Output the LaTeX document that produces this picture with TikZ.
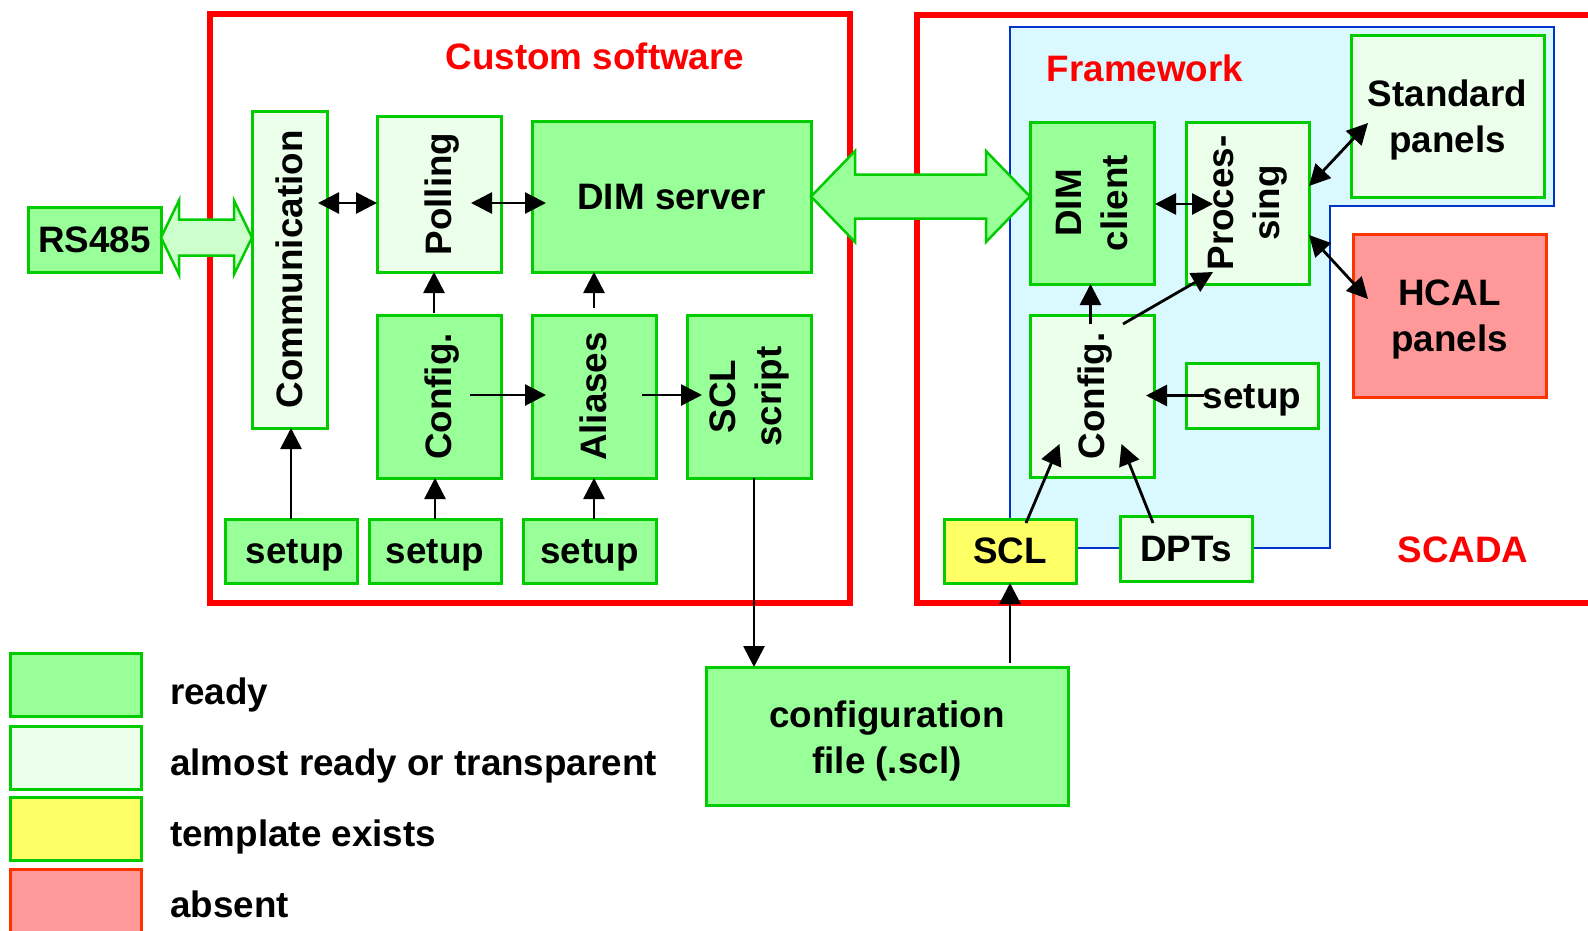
\documentclass[tikz,border=0pt]{standalone}
\usepackage{fontspec}
\setmainfont{Liberation Sans}
\usetikzlibrary{arrows.meta,calc}
\definecolor{rdyfill}{HTML}{99FF99}
\definecolor{ltfill}{HTML}{EBFFEB}
\definecolor{gbord}{HTML}{00CC00}
\definecolor{hollowfill}{HTML}{CCFFCC}
\definecolor{yelfill}{HTML}{FFFF66}
\definecolor{absfill}{HTML}{FF9999}
\definecolor{absbord}{HTML}{FF3300}
\definecolor{fwfill}{HTML}{D9F9FF}
\definecolor{fwbord}{HTML}{0033CC}
\definecolor{redc}{HTML}{FF0000}
\tikzset{
 box/.style={draw=gbord, line width=3pt, inner sep=0pt, outer sep=0pt, rectangle},
 ready/.style={box, fill=rdyfill},
 almost/.style={box, fill=ltfill},
 templ/.style={box, fill=yelfill},
 absent/.style={box, draw=absbord, fill=absfill},
 mtxt/.style={font=\fontsize{36.8}{46}\selectfont\bfseries, inner sep=0pt, align=center},
 txt/.style={font=\fontsize{36.8}{46}\selectfont\bfseries, inner sep=0pt, text height=33.3pt, text depth=7.8pt},
 title/.style={txt, text=redc},
 conn/.style={draw=black, line width=2.8pt, -{Triangle[length=21pt,width=21pt]}},
 dconn/.style={draw=black, line width=2.8pt, {Triangle[length=21pt,width=21pt]}-{Triangle[length=21pt,width=21pt]}},
 frame/.style={draw=redc, line width=6pt},
 hollow/.style={draw=gbord, line width=2.5pt, fill=hollowfill, line join=miter},
 fat/.style={draw=gbord, line width=2.5pt, fill=rdyfill, line join=miter},
}
\newcommand\mkbox[6]{\node[#1, minimum width={#5-#3}, minimum height={#6-#4}] (#2) at ({(#3+#5)/2},{(#4+#6)/2}) {};}
% style, left tip, right tip, shaft half, head half, head length
\newcommand\hdarrow[6]{\path[#1] let \p1=(#2), \p2=(#3) in
 (\x1,\y1) -- (\x1+#6pt,\y1+#5pt) -- (\x1+#6pt,\y1+#4pt) -- (\x2-#6pt,\y1+#4pt) -- (\x2-#6pt,\y1+#5pt) -- (\x2,\y1)
 -- (\x2-#6pt,\y1-#5pt) -- (\x2-#6pt,\y1-#4pt) -- (\x1+#6pt,\y1-#4pt) -- (\x1+#6pt,\y1-#5pt) -- cycle;}
\begin{document}
\begin{tikzpicture}[x=1pt,y=-1pt]
\useasboundingbox (0,0) rectangle (1588,930);
\clip (0,0) rectangle (1588,930);
% frames
\draw[frame] (210,14) rectangle (850,603);
\draw[frame] (917,15) rectangle (1620,603);
\draw[draw=fwbord, line width=2.5pt, fill=fwfill] (1010,27) -- (1554,27) -- (1554,206) -- (1330,206) -- (1330,548) -- (1010,548) -- cycle;
% titles
\node[title] (tcustom) at (595,57) {Custom software};
\node[title] (tframe) at (1145,69) {Framework};
\node[title] (tscada) at (1463,550) {SCADA};
% left blocks
\mkbox{ready}{rs}{28}{207}{161}{272}
\mkbox{almost}{comm}{252}{111}{327}{428}
\mkbox{almost}{polling}{377}{116}{501}{272}
\mkbox{ready}{dimserver}{532}{121}{811}{272}
\mkbox{ready}{configL}{377}{315}{501}{478}
\mkbox{ready}{aliases}{532}{315}{656}{478}
\mkbox{ready}{sclscript}{687}{315}{811}{478}
\mkbox{ready}{setupA}{225}{519}{357}{583}
\mkbox{ready}{setupB}{369}{519}{501}{583}
\mkbox{ready}{setupC}{523}{519}{656}{583}
% right blocks
\mkbox{ready}{dimclient}{1030}{122}{1154}{284}
\mkbox{almost}{proc}{1186}{122}{1309}{284}
\mkbox{almost}{std}{1351}{35}{1544}{197}
\mkbox{almost}{configR}{1030}{315}{1154}{477}
\mkbox{almost}{setupR}{1186}{363}{1318}{428}
\mkbox{absent}{hcal}{1353}{234}{1546}{397}
\mkbox{templ}{scl}{944}{519}{1076}{583}
\mkbox{almost}{dpts}{1120}{516}{1252}{581}
\mkbox{ready}{cfgfile}{706}{667}{1068}{805}
% legend
\mkbox{ready}{lgA}{10}{653}{141}{716}
\mkbox{almost}{lgB}{10}{726}{141}{789}
\mkbox{templ}{lgC}{10}{797}{141}{860}
\mkbox{absent}{lgD}{10}{869}{141}{940}
\node[txt, anchor=base west] (lgtA) at (170,704) {ready};
\node[txt, anchor=base west] (lgtB) at (170,775) {almost ready or transparent};
\node[txt, anchor=base west] (lgtC) at (170,846) {template exists};
\node[txt, anchor=base west] (lgtD) at (170,917) {absent};
% texts
\node[txt] at (rs) {RS485};
\node[txt, rotate=90] at (comm) {Communication};
\node[txt, rotate=90] at (polling) {Polling};
\node[txt] at (dimserver) {DIM server};
\node[txt, rotate=90] at (configL) {Config.};
\node[txt, rotate=90] at (aliases) {Aliases};
\node[mtxt, rotate=90] at (sclscript) {SCL\\script};
\node[txt] at ($(setupA)+(4,0)$) {setup};
\node[txt] at (setupB) {setup};
\node[txt] at (setupC) {setup};
\node[mtxt, rotate=90] at (dimclient) {DIM\\client};
\node[mtxt, rotate=90] at (proc) {Proces-\\sing};
\node[mtxt] at ($(std)+(0,4)$) {Standard\\panels};
\node[txt, rotate=90] at (configR) {Config.};
\node[txt] at (setupR) {setup};
\node[mtxt] at ($(hcal)+(0,4)$) {HCAL\\panels};
\node[txt] at (scl) {SCL};
\node[txt] at (dpts) {DPTs};
\node[mtxt] at ($(cfgfile)+(0,5)$) {configuration\\file (.scl)};
% hollow arrows
\hdarrow{hollow}{$(rs.east)+(0,-2)$}{$(comm.west |- rs.east)+(0,-2)$}{18}{37}{18}
\hdarrow{fat}{dimserver.east}{dimclient.west |- dimserver.east}{22}{45.5}{44}
% connectors left
\draw[dconn] ($(comm.east |- polling.west)+(-9,9)$) -- ($(polling.west)+(0,9)$);
\draw[dconn] ($(polling.east)+(-30,9)$) -- ($(dimserver.west |- polling.east)+(14,9)$);
\draw[conn] ($(configL.north)+(-5,-2)$) -- ($(polling.south)+(-5,0)$);
\draw[conn] (setupB.north) -- (setupB.north |- configL.south);
\draw[conn] (setupA.north) -- (setupA.north |- comm.south);
\draw[conn] ($(configL.center)+(31,-1.5)$) -- ($(aliases.west)+(14,-1.5)$);
\draw[conn] ($(aliases.north)+(0,-7)$) -- (aliases.north |- dimserver.south);
\draw[conn] (aliases.south |- setupC.north) -- (aliases.south);
\draw[conn] ($(aliases.center)+(48,-1.5)$) -- ($(sclscript.west)+(15,-1.5)$);
\draw[conn] ($(sclscript.south)+(5,0)$) -- ($(sclscript.south |- cfgfile.north)+(5,0)$);
\draw[conn] ($(scl.south |- cfgfile.north)+(0,-4)$) -- (scl.south);
% connectors right
\draw[dconn] ($(dimclient.east)+(1,1)$) -- ($(proc.west)+(27,1)$);
\draw[dconn] ($(proc.east)+(0,-17)$) -- ($(std.west)+(17,7)$);
\draw[dconn] ($(proc.east)+(0,32)$) -- ($(hcal.west)+(15,-16.5)$);
\draw[conn] ($(configR.north)+(-1.5,9)$) -- ($(dimclient.south)+(-1.5,0)$);
\draw[conn] ($(configR.north)+(31,9)$) -- ($(proc.south)+(-34.5,-12)$);
\draw[conn] ($(setupR.west)+(18,0)$) -- ($(configR.east |- setupR.west)+(-8,0)$);
\draw[conn] ($(scl.north)+(16,4)$) -- ($(configR.south)+(-32.5,-33)$);
\draw[conn] ($(dpts.north)+(-33,7)$) -- ($(configR.south)+(29.5,-33)$);
\end{tikzpicture}
\end{document}
